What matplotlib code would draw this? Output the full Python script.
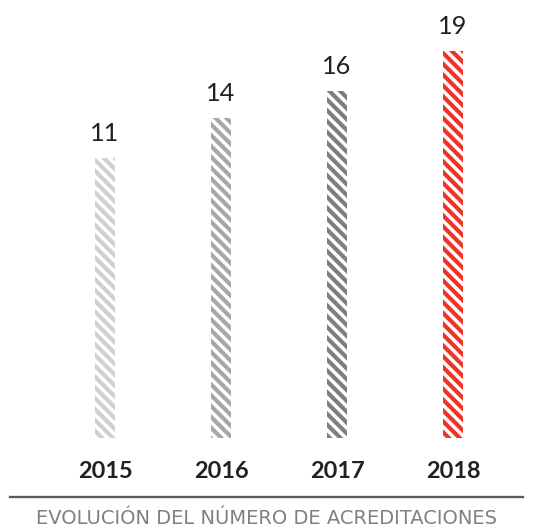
import matplotlib
matplotlib.use("Agg")
import matplotlib.pyplot as plt
from matplotlib.lines import Line2D
from matplotlib.transforms import blended_transform_factory

# ---- data ----
years = ["2015", "2016", "2017", "2018"]
values = [11, 14, 16, 19]
colors = ["#d0d0d0", "#a7a7a7", "#7e7e7e", "#ee3327"]
title = "EVOLUCIÓN DEL NÚMERO DE ACREDITACIONES"

DPI = 130
W, H = 535, 527
plt.rcParams["hatch.linewidth"] = 2.3

fig = plt.figure(figsize=(W / DPI, H / DPI), dpi=DPI)
ax = fig.add_axes([0, 0, 1, 1])
ax.set_axis_off()

# scale: x index -> pixel 105 + 116*i ; baseline value -> pixel from bottom 89
px_per_x = 116.0
x0 = 105.0
ax.set_xlim(-x0 / px_per_x, (W - x0) / px_per_x)
base = -10.0
px_per_y = 13.35
ax.set_ylim(base - 89 / px_per_y, base + (H - 89) / px_per_y)

xs = list(range(len(years)))
for x, v, c in zip(xs, values, colors):
    ax.bar(x, v - base, bottom=base, width=20 / px_per_x,
           facecolor="none", edgecolor=c, linewidth=0, hatch="\\" * 4)
    ax.annotate(str(v), (x, v), xytext=(0, 13.5), textcoords="offset points",
                ha="center", va="center", fontsize=14, color="#231f20",
                family=["Lato", "DejaVu Sans"], fontweight="normal")

tr = blended_transform_factory(ax.transData, fig.transFigure)
for x, y in zip(xs, years):
    ax.text(x, 1 - 471 / H, y, transform=tr, ha="center", va="center",
            fontsize=13, color="#231f20", family=["Lato", "DejaVu Sans"],
            fontweight="bold")

fig.add_artist(Line2D([10 / W, 523 / W], [1 - 497 / H, 1 - 497 / H],
                      transform=fig.transFigure, color="#5a5a5a", linewidth=1.3))
fig.text(267 / W, 1 - 518 / H, title, ha="center", va="center",
         fontsize=10.8, color="#808080", family=["DejaVu Sans"],
         fontweight="normal")

fig.savefig("out.png", dpi=DPI)
